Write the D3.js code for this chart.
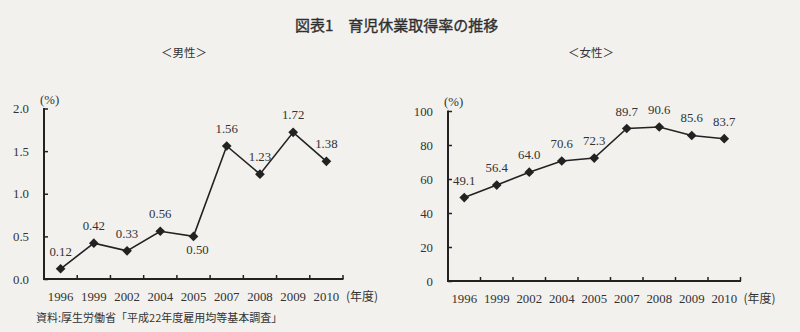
<!DOCTYPE html>
<html><head><meta charset="utf-8">
<script src="https://cdn.jsdelivr.net/npm/d3@7"></script>
<style>
html,body{margin:0;padding:0;background:#f2f1ee;}
svg{display:block;}
.num{font-family:"Liberation Serif","DejaVu Serif",serif;font-size:12.8px;fill:#333;}
.jp{font-family:"Noto Sans CJK JP",sans-serif;fill:#333;}
</style></head><body>
<svg id="c" width="800" height="332"></svg>
<script>
const years = ["1996","1999","2002","2004","2005","2007","2008","2009","2010"];
const menValues = [0.12,0.42,0.33,0.56,0.50,1.56,1.23,1.72,1.38];
const womenValues = [49.1,56.4,64.0,70.6,72.3,89.7,90.6,85.6,83.7];
const menTicks = [0,0.5,1.0,1.5,2.0];
const womenTicks = [0,20,40,60,80,100];
const menLabels = ["0.12","0.42","0.33","0.56","0.50","1.56","1.23","1.72","1.38"];
const womenLabels = ["49.1","56.4","64.0","70.6","72.3","89.7","90.6","85.6","83.7"];

const svg = d3.select("#c");
svg.append("rect").attr("width",800).attr("height",332).attr("fill","#f2f1ee");

svg.append("text").attr("class","jp").attr("x",295).attr("y",31)
  .attr("font-size","15px").attr("font-weight","normal").attr("fill","#2a2a2a")
  .attr("stroke","#2a2a2a").attr("stroke-width",0.35)
  .text("図表1　育児休業取得率の推移");

svg.append("text").attr("class","jp").attr("x",184).attr("y",57).attr("text-anchor","middle")
  .attr("font-size","11.5px").text("＜男性＞");
svg.append("text").attr("class","jp").attr("x",591).attr("y",57).attr("text-anchor","middle")
  .attr("font-size","11.5px").text("＜女性＞");

svg.append("text").attr("class","jp").attr("x",36).attr("y",322)
  .attr("font-size","11px").text("資料:厚生労働省「平成22年度雇用均等基本調査」");

function panel(opts){
  const g = svg.append("g");
  const x = d3.scaleBand().domain(years).range([opts.x0,opts.x1]);
  const y = d3.scaleLinear().domain(opts.domain).range([opts.y0,opts.y1]);
  const ya = d3.axisLeft(y).tickValues(opts.ticks).tickSize(-4).tickPadding(15).tickFormat(opts.fmt);
  const yg = g.append("g").attr("transform",`translate(${opts.x0},0)`).call(ya);
  yg.select(".domain").remove();
  yg.selectAll(".tick line").attr("stroke","#222").attr("stroke-width",1.5);
  yg.selectAll(".tick text").attr("class","num").attr("fill","#333");
  g.append("line").attr("x1",opts.x0).attr("x2",opts.x0).attr("y1",opts.y1-0.5).attr("y2",opts.y0+1)
    .attr("stroke","#222").attr("stroke-width",2);
  g.append("line").attr("x1",opts.x0-1).attr("x2",opts.x1+0.5).attr("y1",opts.y0).attr("y2",opts.y0)
    .attr("stroke","#222").attr("stroke-width",2);
  const bounds = years.map(d=>x(d)+x.bandwidth());
  g.selectAll(".xt").data(bounds).join("line")
    .attr("x1",d=>d).attr("x2",d=>d).attr("y1",opts.y0).attr("y2",opts.y0-4)
    .attr("stroke","#222").attr("stroke-width",1.5);
  g.selectAll(".xl").data(years).join("text").attr("class","num")
    .attr("x",d=>x(d)+x.bandwidth()/2).attr("y",opts.y0+22).attr("text-anchor","middle").text(d=>d);
  g.append("text").attr("class","jp").attr("x",opts.x1+3).attr("y",opts.y0+22)
    .attr("font-size","12px").text("(年度)");
  g.append("text").attr("class","num").attr("x",opts.x0-4).attr("y",opts.y1-5).text("(%)");
  const pts = opts.values.map((v,i)=>[x(years[i])+x.bandwidth()/2, y(v)]);
  g.append("path").attr("d",d3.line()(pts)).attr("fill","none").attr("stroke","#222").attr("stroke-width",1.6);
  const sym = d3.symbol().type(d3.symbolDiamond2).size(60);
  g.selectAll(".m").data(pts).join("path").attr("d",sym)
    .attr("transform",d=>`translate(${d[0]},${d[1]})`).attr("fill","#222");
  g.selectAll(".lab").data(pts).join("text").attr("class","num")
    .attr("x",(d,i)=>d[0]+(opts.below.includes(i)?4:0))
    .attr("y",(d,i)=>opts.below.includes(i)? d[1]+18 : d[1]-13)
    .attr("text-anchor","middle").text((d,i)=>opts.labels[i]);
}

panel({x0:44,x1:343,y0:279,y1:108.5,domain:[0,2.0],ticks:menTicks,fmt:d3.format(".1f"),
  values:menValues,labels:menLabels,below:[4]});
panel({x0:448,x1:740.5,y0:281,y1:111,domain:[0,100],ticks:womenTicks,fmt:d3.format("d"),
  values:womenValues,labels:womenLabels,below:[]});
</script>
</body></html>
